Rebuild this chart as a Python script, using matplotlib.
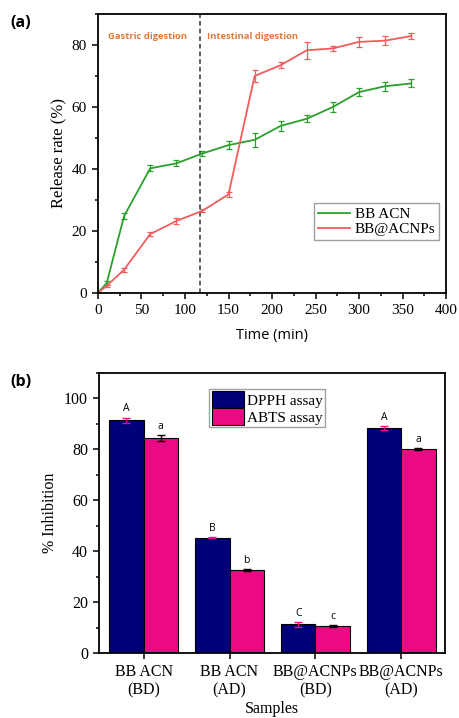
"""
Two-panel figure: (a) cumulative release during simulated digestion,
(b) antioxidant activity (DPPH / ABTS) before and after digestion.
"""

import matplotlib
matplotlib.use("Agg")
import matplotlib.pyplot as plt
import numpy as np
from matplotlib.lines import Line2D
from matplotlib.ticker import MultipleLocator

# ── Panel (a) data ──
time_min = [0, 10, 30, 60, 90, 120, 150, 180, 210, 240, 270, 300, 330, 360]
acn_release = [0, 3.2, 24.8, 40.2, 41.8, 45.0, 47.7, 49.4, 53.9, 56.2, 60.0, 64.8, 66.7, 67.6]
acn_err = [0, 0.5, 1.0, 1.0, 1.0, 0.8, 1.3, 2.2, 1.5, 1.2, 1.6, 1.4, 1.4, 1.3]
np_release = [0, 2.3, 7.5, 19.0, 23.2, 26.5, 31.8, 70.0, 73.5, 78.3, 78.9, 81.0, 81.4, 82.9]
np_err = [0, 0.3, 0.7, 0.7, 1.0, 0.5, 0.8, 2.0, 1.0, 2.8, 0.7, 1.5, 1.5, 1.0]
phase_split = 117

# ── Panel (b) data ──
samples = ["BB ACN\n(BD)", "BB ACN\n(AD)", "BB@ACNPs\n(BD)", "BB@ACNPs\n(AD)"]
dpph = [91.5, 45.3, 11.3, 88.4]
dpph_err = [1.0, 0.3, 1.0, 0.9]
abts = [84.3, 32.7, 10.6, 80.2]
abts_err = [1.2, 0.3, 0.3, 0.5]
dpph_letters = ["A", "B", "C", "A"]
abts_letters = ["a", "b", "c", "a"]

SERIF = ["Liberation Serif", "DejaVu Serif"]
SANS = ["Open Sans", "DejaVu Sans"]
GREEN = "#2ca02c"
RED = "#f25c5c"
ORANGE = "#e07b39"
NAVY = "#000078"
PINK = "#ec0a84"

fig = plt.figure(figsize=(4.59, 7.18), dpi=100)


def _style_axes(ax):
    for sp in ax.spines.values():
        sp.set_linewidth(1.3)
    ax.tick_params(which="both", direction="out", top=False, right=False, width=1.1)
    ax.tick_params(which="major", length=4.5)
    ax.tick_params(which="minor", length=2.5)
    for lab in ax.get_xticklabels() + ax.get_yticklabels():
        lab.set_family(SERIF)


# ──────────────────────────────────────────────────────────────────────
# (a) release profile
# ──────────────────────────────────────────────────────────────────────
ax = fig.add_axes([0.2135, 0.592, 0.7582, 0.3885])
ax.errorbar(time_min, acn_release, yerr=acn_err, color=GREEN, lw=1.3,
            elinewidth=0.9, capsize=2.5, capthick=0.9)
ax.errorbar(time_min, np_release, yerr=np_err, color=RED, lw=1.3,
            elinewidth=0.9, capsize=2.5, capthick=0.9)
ax.axvline(phase_split, color="#333333", ls=(0, (3, 2)), lw=1.1)
ax.text(12, 82.6, "Gastric digestion", color=ORANGE, fontsize=6.8,
        fontweight="bold", family=SANS, va="center")
ax.text(125, 82.6, "Intestinal digestion", color=ORANGE, fontsize=6.8,
        fontweight="bold", family=SANS, va="center")
ax.set_xlim(0, 400)
ax.set_ylim(0, 90)
ax.xaxis.set_major_locator(MultipleLocator(50))
ax.xaxis.set_minor_locator(MultipleLocator(25))
ax.yaxis.set_major_locator(MultipleLocator(20))
ax.yaxis.set_minor_locator(MultipleLocator(10))
ax.tick_params(labelsize=11)
ax.set_xlabel("Time (min)", family=SANS, fontsize=10.5, labelpad=8)
ax.set_ylabel("Release rate (%)", family=SERIF, fontsize=12, labelpad=4)
_style_axes(ax)
# plain line handles (no error-bar glyphs in the legend)
handles = [Line2D([], [], color=GREEN, lw=1.3), Line2D([], [], color=RED, lw=1.3)]
ax.legend(handles, ["BB ACN", "BB@ACNPs"], loc="lower right",
          bbox_to_anchor=(0.98, 0.19), borderaxespad=0,
          prop={"family": SERIF, "size": 11}, fancybox=False,
          edgecolor="#888888", handlelength=2.1, handletextpad=0.3,
          borderpad=0.25, labelspacing=0.1)
fig.text(0.022, 0.962, "(a)", fontsize=11.5, fontweight="bold", family=SANS)

# ──────────────────────────────────────────────────────────────────────
# (b) antioxidant activity
# ──────────────────────────────────────────────────────────────────────
bx = fig.add_axes([0.2157, 0.0905, 0.7538, 0.39])
x = np.arange(1, len(samples) + 1)
w = 0.4
bx.bar(x - w / 2, dpph, w, color=NAVY, edgecolor="black", lw=0.8,
       label="DPPH assay", zorder=2)
bx.bar(x + w / 2, abts, w, color=PINK, edgecolor="black", lw=0.8,
       label="ABTS assay", zorder=2)
bx.errorbar(x - w / 2, dpph, yerr=dpph_err, fmt="none", ecolor=PINK,
            elinewidth=1.0, capsize=3, capthick=1.0, zorder=3)
bx.errorbar(x + w / 2, abts, yerr=abts_err, fmt="none", ecolor="black",
            elinewidth=1.0, capsize=3, capthick=1.0, zorder=3)
for xi, v, e, t in zip(x - w / 2, dpph, dpph_err, dpph_letters):
    bx.text(xi, v + e + 1.2, t, ha="center", va="bottom", fontsize=7.5, family=SANS)
for xi, v, e, t in zip(x + w / 2, abts, abts_err, abts_letters):
    bx.text(xi, v + e + 1.2, t, ha="center", va="bottom", fontsize=7.5, family=SANS)
bx.set_xlim(0.48, 4.51)
bx.set_ylim(0, 110)
bx.set_xticks(x)
bx.set_xticklabels(samples, linespacing=1.2)
bx.yaxis.set_major_locator(MultipleLocator(20))
bx.yaxis.set_minor_locator(MultipleLocator(10))
bx.tick_params(axis="x", which="minor", bottom=False)
bx.tick_params(axis="x", labelsize=11.5)
bx.tick_params(axis="y", labelsize=11.5)
bx.set_xlabel("Samples", family=SERIF, fontsize=11.5, labelpad=2)
bx.set_ylabel("% Inhibition", family=SERIF, fontsize=11.5, labelpad=4)
_style_axes(bx)
bx.legend(loc="upper center", bbox_to_anchor=(0.486, 0.943), borderaxespad=0,
          prop={"family": SERIF, "size": 11}, fancybox=False,
          edgecolor="#888888", handlelength=2.1, handleheight=1.3,
          handletextpad=0.2, borderpad=0.15, labelspacing=0.02)
fig.text(0.022, 0.463, "(b)", fontsize=11.5, fontweight="bold", family=SANS)

fig.savefig("out.png", dpi=100)
plt.close(fig)
